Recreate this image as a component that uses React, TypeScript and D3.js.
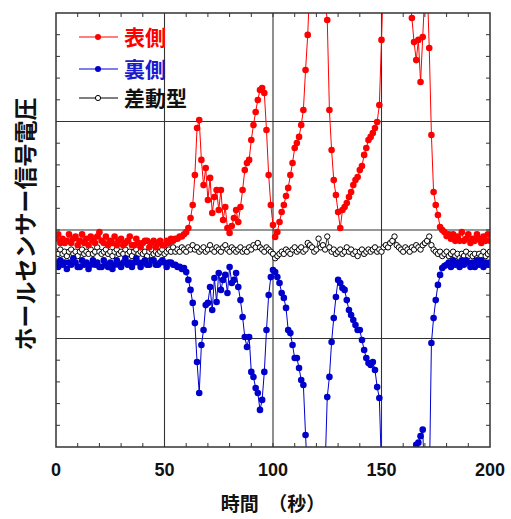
import React from "react";
import * as d3 from "d3";

// time axis (seconds), sampled every 1 s
const times: number[] = d3.range(0, 201, 1);

// 表側 (front side) signal, arbitrary units
const frontValues: number[] = [
  9.6, 9.8, 9.4, 9.6, 9.4, 9.5, 9.8, 9.4, 9.6, 9.7,
  9.3, 9.5, 9.8, 9.4, 9.6, 9.3, 9.7, 9.5, 9.4, 9.7,
  9.9, 9.5, 9.4, 9.7, 9.3, 9.5, 9.4, 9.7, 9.3, 9.5,
  9.6, 9.3, 9.4, 9.5, 9.7, 9.3, 9.3, 9.6, 9.4, 9.2,
  9.4, 9.5, 9.5, 9.2, 9.4, 9.5, 9.2, 9.4, 9.5, 9.3,
  9.3, 9.5, 9.4, 9.6, 9.5, 9.6, 9.6, 9.7, 9.7, 9.8,
  9.9, 10.09, 10.55, 11.15, 12.53, 14.7, 15.07, 13.23, 12.07, 12.86,
  11.38, 12.4, 10.78, 11.52, 11.84, 10.92, 11.84, 10.46, 11.06, 10.09,
  9.86, 10.18, 10.55, 10.92, 10.37, 11.06, 11.84, 12.76, 13.09, 13.23,
  14.15, 14.84, 15.44, 15.99, 16.45, 16.54, 16.31, 14.61, 12.53, 11.15,
  10.23, 9.68, 9.91, 10.37, 10.83, 11.15, 11.57, 11.94, 12.53, 13.09,
  13.78, 14.01, 14.29, 14.84, 15.53, 17.37, 18.99, 21.5, 23, 24,
  24, 23.5, 22.5, 21.5, 20.5, 19.68, 15.53, 13.69, 12.3, 11.61,
  10.83, 10.09, 10.92, 11.06, 11.24, 11.52, 11.75, 12.07, 12.3, 12.44,
  12.76, 12.95, 13.46, 13.78, 14.15, 14.29, 14.47, 14.7, 14.98, 15.76,
  18.76, 22, 24, 25, 25.5, 25, 24.5, 24, 23.5, 23,
  22.5, 22, 21.5, 20.8, 19.77, 18.66, 17.83, 18.76, 16.82, 18.89,
  21, 21.5, 18.39, 14.38, 11.75, 11.15, 10.69, 10.14, 10.0, 9.91,
  9.72, 9.8, 9.6, 9.8, 9.5, 9.7, 9.5, 9.9, 9.5, 9.6,
  9.8, 9.4, 9.6, 9.5, 9.8, 9.6, 9.4, 9.7, 9.5, 9.8,
  9.5,
];

// 裏側 (back side) signal
const backValues: number[] = [
  8.5, 8.3, 8.6, 8.4, 8.5, 8.2, 8.5, 8.4, 8.7, 8.5,
  8.3, 8.3, 8.6, 8.4, 8.5, 8.2, 8.4, 8.6, 8.4, 8.5,
  8.3, 8.3, 8.6, 8.4, 8.3, 8.5, 8.2, 8.4, 8.6, 8.4,
  8.3, 8.5, 8.7, 8.4, 8.5, 8.3, 8.5, 8.7, 8.5, 8.3,
  8.5, 8.6, 8.4, 8.4, 8.6, 8.6, 8.4, 8.4, 8.5, 8.6,
  8.5, 8.3, 8.5, 8.5, 8.4, 8.4, 8.3, 8.3, 8.2, 8.25,
  8.06, 7.7, 7.24, 6.64, 5.71, 3.92, 2.49, 4.7, 5.39, 6.54,
  6.64, 7.37, 6.31, 7.79, 6.68, 8.02, 7.24, 7.7, 7.93, 7.1,
  8.29, 7.56, 7.7, 8.02, 7.37, 6.77, 5.99, 5.07, 4.61, 5.07,
  3.46, 3.23, 2.72, 2.49, 1.71, 2.17, 3.46, 5.39, 7.0, 7.83,
  8.16, 8.06, 7.83, 7.56, 7.1, 6.87, 6.41, 5.39, 5.25, 4.7,
  4.1, 4.1, 3.64, 3.09, 2.86, 0.55, -1.5, -3, -4, -4.5,
  -4.5, -4, -3, -2, -1, 2.3, 3.23, 4.84, 5.94, 6.91,
  7.7, 7.56, 7.33, 7.24, 6.77, 6.31, 6.08, 5.85, 5.62, 5.39,
  5.39, 4.93, 4.47, 4.1, 3.87, 3.78, 3.92, 3.55, 2.76, 2.26,
  -1, -3, -4, -4.5, -5, -5, -5, -4.5, -4.5, -4,
  -4, -3.5, -3, -2.5, -2, -0.5, 0.1, 0.2, 0.5, 0.8,
  -2, -3, -2, 4.79, 5.94, 6.77, 7.47, 7.93, 8.25, 8.34,
  8.4, 8.5, 8.3, 8.6, 8.4, 8.5, 8.3, 8.6, 8.4, 8.6,
  8.5, 8.3, 8.5, 8.3, 8.6, 8.4, 8.6, 8.3, 8.5, 8.4,
  8.5,
];

// 差動型 (differential) signal
const diffValues: number[] = [
  9.0, 8.9, 9.1, 8.9, 9.0, 8.8, 9.0, 9.1, 8.9, 9.0,
  8.8, 9.0, 9.1, 8.9, 9.0, 8.9, 9.1, 8.9, 9.0, 9.2,
  9.0, 8.9, 9.0, 9.1, 8.9, 9.0, 8.8, 9.0, 9.1, 8.9,
  9.0, 8.9, 9.1, 8.9, 9.0, 8.8, 9.0, 9.1, 8.9, 9.0,
  8.9, 9.0, 8.8, 9.0, 9.1, 8.9, 9.0, 8.9, 9.0, 9.1,
  8.9, 9.0, 9.1, 9.0, 9.2, 9.0, 9.1, 9.0, 9.2, 9.1,
  9.0, 9.2, 9.1, 9.3, 9.1, 9.2, 9.0, 9.1, 9.2, 9.0,
  9.1, 9.3, 9.1, 9.0, 9.2, 9.1, 9.0, 9.2, 9.3, 9.1,
  9.0, 9.2, 9.1, 9.0, 9.1, 9.2, 9.0, 9.1, 9.0, 9.2,
  9.1, 9.3, 9.2, 9.4, 9.2, 9.1, 9.0, 9.2, 9.1, 9.0,
  8.9, 8.7, 8.8, 8.9, 9.0, 8.9, 9.1, 9.0, 8.9, 9.1,
  9.2, 9.0, 9.1, 9.2, 9.0, 9.1, 9.4, 9.3, 9.2, 9.0,
  9.1, 9.6, 9.2, 9.3, 9.1, 9.7, 9.2, 9.0, 9.1, 8.9,
  9.0, 9.1, 8.9, 9.0, 9.2, 9.0, 9.1, 8.9, 9.0, 8.8,
  9.0, 9.1, 8.9, 9.0, 9.1, 9.0, 9.1, 9.2, 9.0, 9.1,
  9.0, 9.2, 9.3, 9.2, 9.4, 9.5, 9.7, 9.3, 9.2, 9.1,
  9.0, 9.2, 9.1, 9.0, 9.2, 9.1, 9.3, 9.2, 9.1, 9.3,
  9.4, 9.5, 9.7, 9.3, 9.1, 9.0, 8.9, 9.0, 8.8, 8.9,
  9.0, 8.8, 8.9, 9.0, 8.8, 8.9, 8.7, 8.9, 8.8, 9.0,
  8.8, 8.9, 8.8, 8.9, 8.7, 8.9, 8.8, 9.0, 8.8, 8.9,
  9.0,
];

const xTickValues: number[] = [0, 50, 100, 150, 200];
const xTickLabels: string[] = ["0", "50", "100", "150", "200"];
const xGridValues: number[] = [50, 100, 150];
const yGridValues: number[] = [5, 10, 15];
const xMinorTicks: number[] = d3.range(10, 200, 10);
const yMinorTicks: number[] = d3.range(1, 20, 1);

const legendLabels: string[] = ["表側", "裏側", "差動型"];
const xTitle = "時間　（秒）";
const yTitle = "ホールセンサー信号電圧";

const W = 511;
const H = 519;
const M = { left: 56, top: 13, right: 21, bottom: 72 };
const PW = W - M.left - M.right;
const PH = H - M.top - M.bottom;

const RED = "#ff0000";
const BLUE = "#0000cc";
const FRAME = "#333333";
const JP = "'Noto Sans CJK JP', 'Noto Sans', sans-serif";
const NUM = "'Liberation Sans', Arial, sans-serif";

export default function App() {
  const x = d3.scaleLinear().domain([0, 200]).range([M.left, M.left + PW]);
  const y = d3.scaleLinear().domain([0, 20]).range([M.top + PH, M.top]);

  const mk = (vals: number[]) =>
    d3
      .line<number>()
      .x((_, i) => x(times[i]))
      .y((v) => y(v))(vals) || "";

  const tickLen = 4;
  const legendY = [37, 69, 98];
  const legendColors = [RED, BLUE, "#000"];
  const legendText = [RED, "#1a1ad0", "#111"];

  return (
    <svg
      width={W}
      height={H}
      style={{ position: "absolute", left: 0, top: 0, background: "#fff" }}
    >
      <defs>
        <clipPath id="plotClip">
          <rect x={M.left} y={M.top} width={PW} height={PH} />
        </clipPath>
      </defs>
      <rect x={0} y={0} width={W} height={H} fill="#fff" />

      {/* grid */}
      {xGridValues.map((v) => (
        <line key={"gx" + v} x1={x(v)} x2={x(v)} y1={M.top} y2={M.top + PH} stroke={FRAME} strokeWidth={1.1} />
      ))}
      {yGridValues.map((v) => (
        <line key={"gy" + v} x1={M.left} x2={M.left + PW} y1={y(v)} y2={y(v)} stroke={FRAME} strokeWidth={1.1} />
      ))}

      {/* minor ticks */}
      {xMinorTicks.map((v) => (
        <g key={"tx" + v}>
          <line x1={x(v)} x2={x(v)} y1={M.top + PH} y2={M.top + PH - tickLen} stroke={FRAME} />
          <line x1={x(v)} x2={x(v)} y1={M.top} y2={M.top + tickLen} stroke={FRAME} />
        </g>
      ))}
      {yMinorTicks.map((v) => (
        <g key={"ty" + v}>
          <line x1={M.left} x2={M.left + tickLen} y1={y(v)} y2={y(v)} stroke={FRAME} />
          <line x1={M.left + PW} x2={M.left + PW - tickLen} y1={y(v)} y2={y(v)} stroke={FRAME} />
        </g>
      ))}

      {/* data */}
      <g clipPath="url(#plotClip)">
        <path d={mk(diffValues)} fill="none" stroke="#000" strokeWidth={0.8} />
        {diffValues.map((v, i) => (
          <circle key={"d" + i} cx={x(times[i])} cy={y(v)} r={2.7} fill="#fff" stroke="#000" strokeWidth={1} />
        ))}
        <path d={mk(backValues)} fill="none" stroke={BLUE} strokeWidth={1} />
        {backValues.map((v, i) => (
          <circle key={"b" + i} cx={x(times[i])} cy={y(v)} r={3.3} fill={BLUE} />
        ))}
        <path d={mk(frontValues)} fill="none" stroke={RED} strokeWidth={1} />
        {frontValues.map((v, i) => (
          <circle key={"f" + i} cx={x(times[i])} cy={y(v)} r={3.3} fill={RED} />
        ))}
      </g>

      {/* frame */}
      <rect x={M.left} y={M.top} width={PW} height={PH} fill="none" stroke={FRAME} strokeWidth={1.5} />

      {/* legend */}
      {legendLabels.map((lab, i) => (
        <g key={"lg" + i}>
          <line x1={79} x2={118} y1={legendY[i]} y2={legendY[i]} stroke={legendColors[i]} strokeWidth={1.2} />
          {i < 2 ? (
            <circle cx={98} cy={legendY[i]} r={3} fill={legendColors[i]} />
          ) : (
            <circle cx={98} cy={legendY[i]} r={2.6} fill="#fff" stroke="#000" strokeWidth={1} />
          )}
          <text
            x={124}
            y={legendY[i]}
            dy="0.36em"
            fill={legendText[i]}
            fontFamily={JP}
            fontWeight="bold"
            fontSize={21}
          >
            {lab}
          </text>
        </g>
      ))}

      {/* x tick labels */}
      {xTickValues.map((v, i) => (
        <text
          key={"xl" + v}
          x={x(v)}
          y={476}
          textAnchor="middle"
          fontFamily={NUM}
          fontWeight="bold"
          fontSize={18}
          fill="#111"
        >
          {xTickLabels[i]}
        </text>
      ))}

      {/* axis titles */}
      <text
        x={x(100)}
        y={511}
        textAnchor="middle"
        fontFamily={JP}
        fontWeight="bold"
        fontSize={19}
        fill="#111"
      >
        {xTitle}
      </text>
      <text
        transform={`translate(26, 224) rotate(-90)`}
        textAnchor="middle"
        dy="0.36em"
        fontFamily={JP}
        fontWeight="bold"
        fontSize={23}
        fill="#111"
      >
        {yTitle}
      </text>
    </svg>
  );
}
